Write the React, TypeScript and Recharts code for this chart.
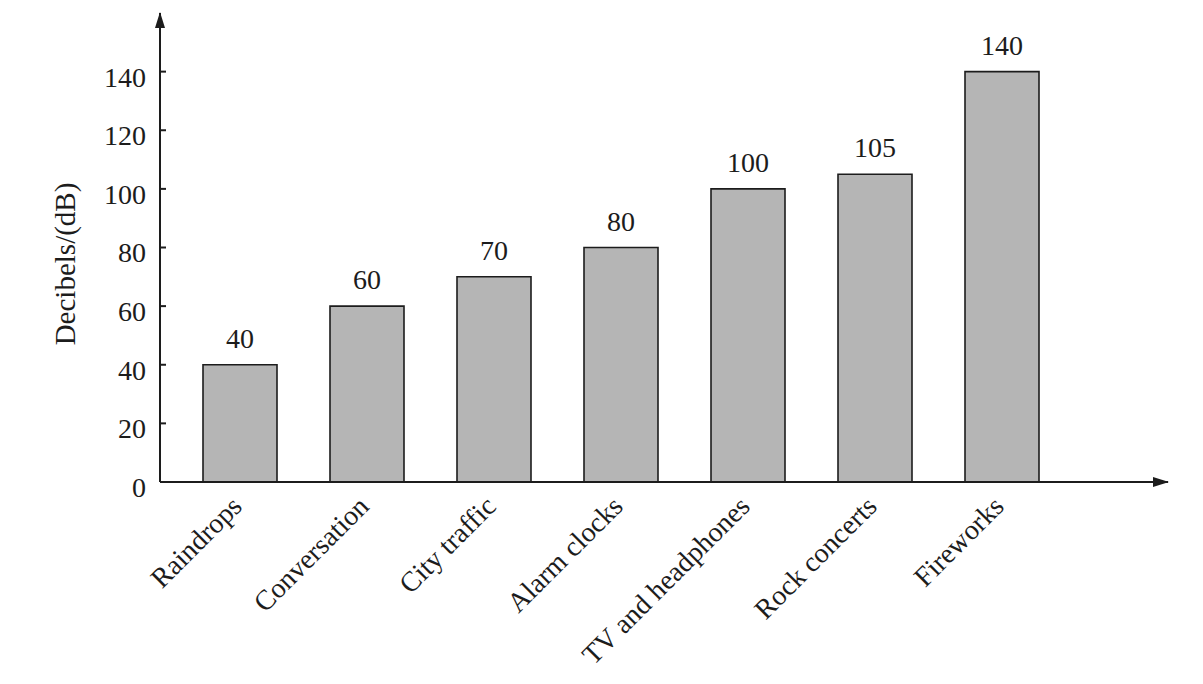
import React from 'react';
import { BarChart, Bar, XAxis, YAxis, LabelList } from 'recharts';

const sources = [
  'Raindrops',
  'Conversation',
  'City traffic',
  'Alarm clocks',
  'TV and headphones',
  'Rock concerts',
  'Fireworks',
];
const decibels = [40, 60, 70, 80, 100, 105, 140];
const yTicks = [0, 20, 40, 60, 80, 100, 120, 140];

const data = sources.map((name, i) => ({ name, db: decibels[i] }));

const FONT = '"Liberation Serif", "Times New Roman", serif';
const INK = '#1c1c1c';

const SourceTick = (props: any) => {
  const { x, y, payload } = props;
  return (
    <g transform={`translate(${x + 4},${y + 18})`}>
      <text
        transform="rotate(-45)"
        textAnchor="end"
        fontFamily={FONT}
        fontSize={28}
        fill={INK}
      >
        {payload.value}
      </text>
    </g>
  );
};

const App: React.FC = () => {
  return (
    <div style={{ position: 'absolute', left: 0, top: 0, background: '#fff' }}>
      <svg width={0} height={0} style={{ position: 'absolute' }}>
        <defs>
          <marker
            id="axisArrow"
            viewBox="0 0 16 10"
            refX={15}
            refY={5}
            markerWidth={16}
            markerHeight={10}
            markerUnits="userSpaceOnUse"
            orient="auto-start-reverse"
          >
            <path d="M0,0 L16,5 L0,10 Z" fill={INK} />
          </marker>
        </defs>
      </svg>
      <BarChart
        width={1203}
        height={684}
        data={data}
        margin={{ top: 13, right: 35, bottom: 172, left: 0 }}
        barSize={74}
      >
        <XAxis
          dataKey="name"
          interval={0}
          height={30}
          padding={{ left: 16, right: 103 }}
          tickLine={false}
          axisLine={{ stroke: INK, strokeWidth: 2, markerEnd: 'url(#axisArrow)' }}
          tick={<SourceTick />}
        />
        <YAxis
          width={160}
          domain={[0, 160]}
          ticks={yTicks}
          interval={0}
          tickSize={-6}
          tickMargin={20}
          axisLine={{ stroke: INK, strokeWidth: 2, markerStart: 'url(#axisArrow)' }}
          tickLine={{ stroke: INK, strokeWidth: 2 }}
          tick={{ fontFamily: FONT, fontSize: 28, fill: INK, dy: 5 }}
          label={() => (
            <text
              x={65}
              y={264}
              transform="rotate(-90 65 264)"
              textAnchor="middle"
              dominantBaseline="central"
              fontFamily={FONT}
              fontSize={29}
              fill={INK}
            >
              Decibels/(dB)
            </text>
          )}
        />
        <Bar
          dataKey="db"
          fill="#b5b5b5"
          stroke={INK}
          strokeWidth={1.6}
          isAnimationActive={false}
        >
          <LabelList
            dataKey="db"
            position="top"
            offset={17}
            fontFamily={FONT}
            fontSize={28}
            fill={INK}
          />
        </Bar>
      </BarChart>
    </div>
  );
};

export default App;
